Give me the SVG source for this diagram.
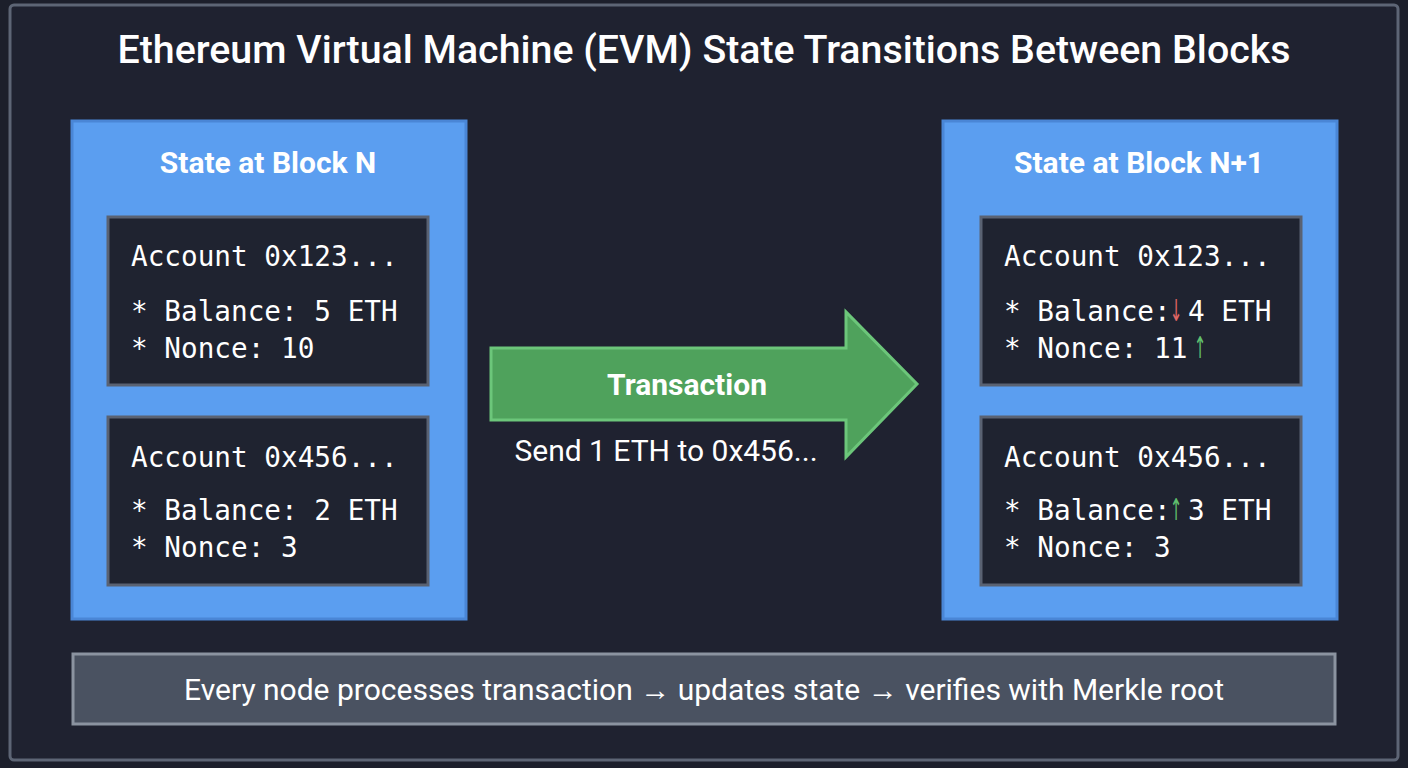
<svg xmlns="http://www.w3.org/2000/svg" width="1408" height="768" viewBox="0 0 1408 768">
<style>
.frame{fill:#1f2230;stroke:#5d6575;stroke-width:3}
.block{fill:#5b9ef0;stroke:#4a86d6;stroke-width:3}
.acct{fill:#1f2330;stroke:#5a6272;stroke-width:3}
.hdr{font-family:Roboto,"Liberation Sans",sans-serif;font-weight:bold;font-size:30px;fill:#ffffff;text-anchor:middle}
.mono{font-family:"DejaVu Sans Mono","Liberation Mono",monospace;font-size:27.7px;fill:#ffffff}
.arr{font-family:"DejaVu Sans",sans-serif;font-size:30px;text-anchor:middle}
.dn{fill:#e06565}
.up{fill:#5fbf6e}
.sans{font-family:Roboto,"Liberation Sans",sans-serif;fill:#ffffff}
</style>
<rect width="1408" height="768" fill="#1c1f2b"/>
<rect class="frame" x="10" y="5" width="1388" height="755" rx="4"/>
<text class="sans" x="704" y="63" font-size="38" font-weight="500" text-anchor="middle" textLength="1173" lengthAdjust="spacingAndGlyphs">Ethereum Virtual Machine (EVM) State Transitions Between Blocks</text>

<g id="block-n">
<rect class="block" x="72" y="121" width="394" height="498"/>
<text class="hdr" x="268" y="173">State at Block N</text>
<g id="acct-n-123">
<rect class="acct" x="108" y="217" width="320" height="168"/>
<text class="mono" x="131" y="266">Account 0x123...</text>
<text class="mono" x="131" y="321">* Balance: 5 ETH</text>
<text class="mono" x="131" y="358">* Nonce: 10</text>
</g>
<g id="acct-n-456">
<rect class="acct" x="108" y="417" width="320" height="168"/>
<text class="mono" x="131" y="467">Account 0x456...</text>
<text class="mono" x="131" y="520">* Balance: 2 ETH</text>
<text class="mono" x="131" y="557">* Nonce: 3</text>
</g>
</g>

<g id="block-n1">
<rect class="block" x="943" y="121" width="394" height="498"/>
<text class="hdr" x="1139" y="173">State at Block N+1</text>
<g id="acct-n1-123">
<rect class="acct" x="981" y="217" width="320" height="168"/>
<text class="mono" x="1004" y="266">Account 0x123...</text>
<text class="mono" x="1004" y="321">* Balance:</text>
<text class="arr dn" transform="translate(1176,321) scale(0.5,1)">↓</text>
<text class="mono" x="1188" y="321">4 ETH</text>
<text class="mono" x="1004" y="358">* Nonce: 11</text>
<text class="arr up" transform="translate(1200,358) scale(0.5,1)">↑</text>
</g>
<g id="acct-n1-456">
<rect class="acct" x="981" y="417" width="320" height="168"/>
<text class="mono" x="1004" y="467">Account 0x456...</text>
<text class="mono" x="1004" y="520">* Balance:</text>
<text class="arr up" transform="translate(1176,520) scale(0.5,1)">↑</text>
<text class="mono" x="1188" y="520">3 ETH</text>
<text class="mono" x="1004" y="557">* Nonce: 3</text>
</g>
</g>

<g id="connectors">
<g id="transaction">
<polygon points="491,348 846,348 846,312 917,384 846,457 846,420 491,420" fill="#4fa25c" stroke="#6cc67a" stroke-width="3" stroke-linejoin="miter"/>
<text class="sans" x="687" y="395" font-size="30" font-weight="bold" text-anchor="middle">Transaction</text>
<text class="sans" x="666" y="461" font-size="30" text-anchor="middle">Send 1 ETH to 0x456...</text>
</g>
</g>

<g id="footer">
<rect x="73" y="654" width="1262" height="70" fill="#4a5261" stroke="#8b93a0" stroke-width="3"/>
<text class="sans" x="704" y="700" font-size="30" text-anchor="middle">Every node processes transaction → updates state → verifies with Merkle root</text>
</g>
</svg>
